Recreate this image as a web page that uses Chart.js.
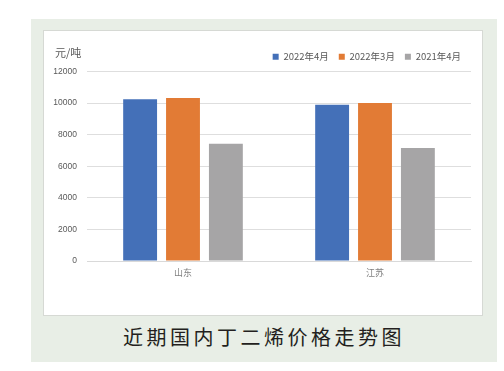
<!DOCTYPE html>
<html>
<head>
<meta charset="utf-8">
<script src="https://cdn.jsdelivr.net/npm/chart.js@4"></script>
<style>
  body { margin: 0; background: #ffffff; width: 504px; height: 371px; position: relative; overflow: hidden; }
  .outer { position: absolute; left: 31px; top: 19px; width: 466px; height: 343px; background: #e8eee6; }
  .panel { position: absolute; left: 12px; top: 11px; width: 438px; height: 284px; background: #ffffff; border: 1px solid #d6d9d4; }
  .panel canvas { position: absolute; left: 0; top: 0; }
  .unit { position: absolute; left: 11px; top: 13px; font: 11px "Noto Sans CJK SC", sans-serif; color: #595959; }
  .caption { position: absolute; left: 0; width: 466px; top: 303px; text-align: center; font: 20px "Noto Sans CJK SC", sans-serif; letter-spacing: 3.5px; color: #231f20; }
</style>
</head>
<body>
<div class="outer">
  <div class="panel">
    <canvas id="chart-bar-1" width="438" height="284"></canvas>
    <div class="unit">元/吨</div>
  </div>
  <div class="caption">近期国内丁二烯价格走势图</div>
</div>
<script>
var regions = ['山东', '江苏'];
var seriesNames = ['2022年4月', '2022年3月', '2021年4月'];
var apr2022 = [10250, 9900];
var mar2022 = [10320, 10000];
var apr2021 = [7430, 7150];
var yTicks = [0, 2000, 4000, 6000, 8000, 10000, 12000];

var ctx = document.getElementById('chart-bar-1').getContext('2d');
var myBarChart = new Chart(ctx, {
    type: 'bar',
    data: {
        labels: regions,
        datasets: [
            { label: seriesNames[0], data: apr2022, backgroundColor: '#4470b8' },
            { label: seriesNames[1], data: mar2022, backgroundColor: '#e27b35' },
            { label: seriesNames[2], data: apr2021, backgroundColor: '#a6a5a6' }
        ]
    },
    options: {
        responsive: false,
        animation: false,
        layout: { padding: { left: 9, right: 11, top: 11, bottom: 0 } },
        datasets: { bar: { categoryPercentage: 0.67, barPercentage: 0.79 } },
        plugins: {
            legend: {
                position: 'top',
                align: 'end',
                labels: {
                    boxWidth: 6,
                    boxHeight: 6,
                    padding: 10,
                    color: '#595959',
                    font: { family: '"Noto Sans CJK SC", sans-serif', size: 9.5 }
                }
            },
            tooltip: { enabled: false }
        },
        scales: {
            x: {
                grid: { display: false, drawTicks: false },
                border: { color: '#d9d9d9', width: 1 },
                ticks: { color: '#808080', padding: 6, font: { family: '"Noto Sans CJK SC", sans-serif', size: 9 } },
                afterFit: function (scale) { scale.height = 54; }
            },
            y: {
                min: 0,
                max: 12000,
                afterBuildTicks: function (scale) { scale.ticks = yTicks.map(function (v) { return { value: v }; }); },
                grid: { color: '#dedede', drawTicks: false },
                border: { display: false },
                ticks: {
                    color: '#595959',
                    padding: 10,
                    font: { family: '"Liberation Sans", sans-serif', size: 8.5 },
                    callback: function (value) { return String(value); }
                },
                afterFit: function (scale) { scale.width = 34; }
            }
        }
    }
});
</script>
</body>
</html>
